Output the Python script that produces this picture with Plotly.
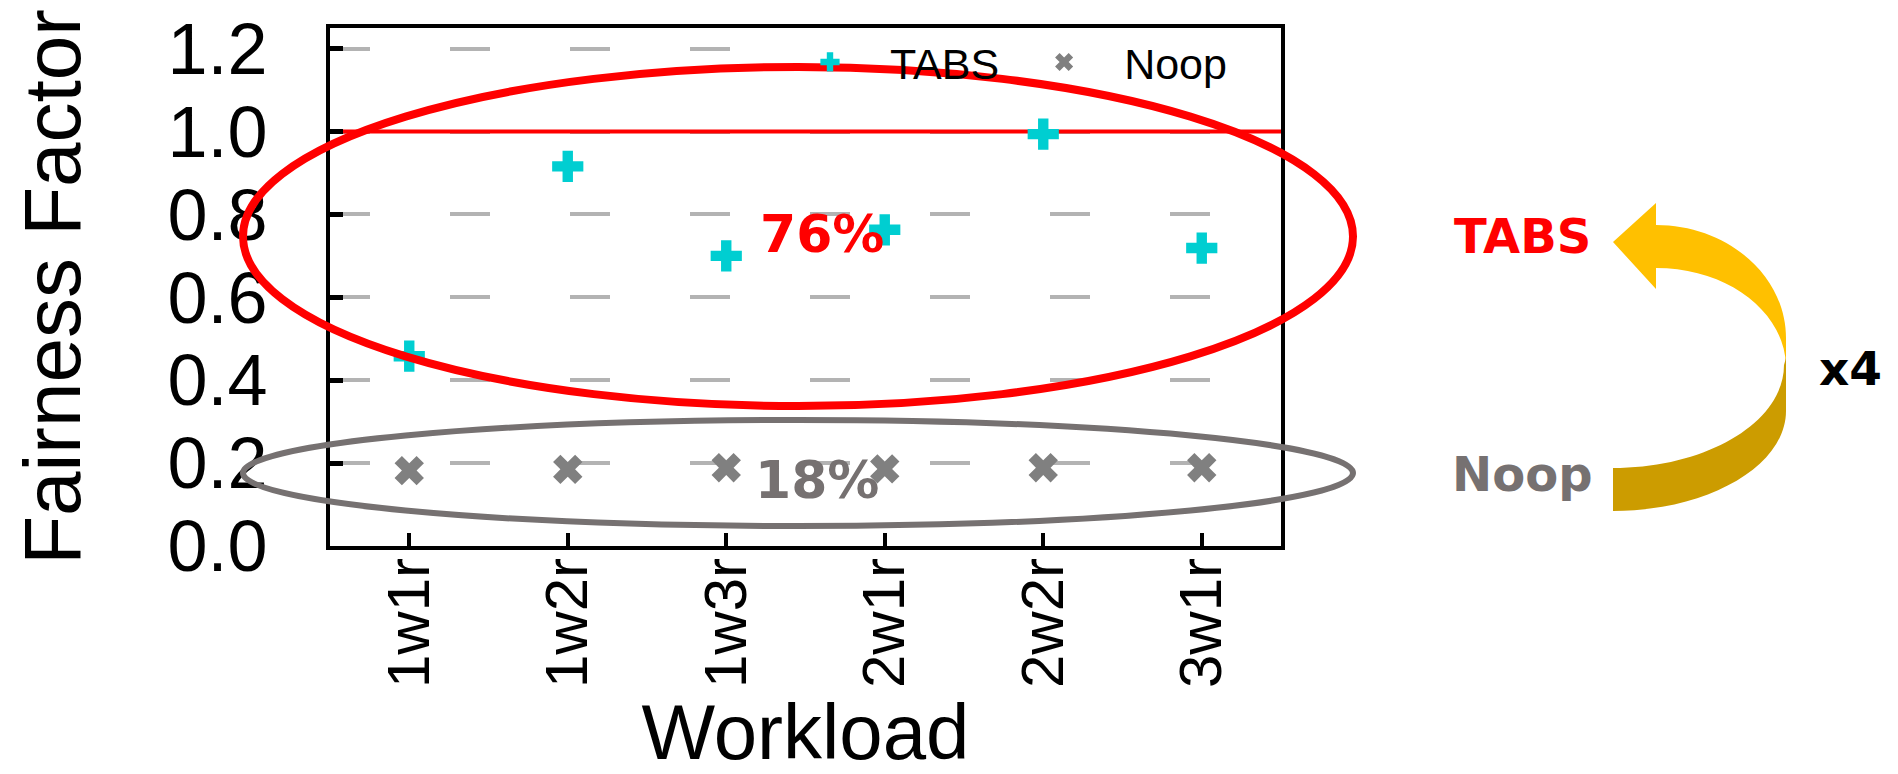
import plotly.graph_objects as go

# ---------------- data ----------------
workloads = ["1w1r", "1w2r", "1w3r", "2w1r", "2w2r", "3w1r"]
tabs = [0.458, 0.916, 0.700, 0.763, 0.994, 0.719]
noop = [0.182, 0.185, 0.189, 0.186, 0.189, 0.189]
y_tick_vals = [0.0, 0.2, 0.4, 0.6, 0.8, 1.0, 1.2]
fair_level = 1.0
tabs_pct = "76%"
noop_pct = "18%"
gain_label = "x4"

x_pos = list(range(len(workloads)))
x_span = [-0.5, len(workloads) - 0.5]

# ---------------- layout geometry (px) ----------------
W, H = 1898, 774
L, R, T, B = 322, 625, 20, 236
PW = W - L - R
PH = H - T - B


def px(x):
    return (x - L) / PW


def py(y):
    return (H - B - y) / PH


FONT = "Liberation Sans, Arial, Helvetica, sans-serif"
BOLD = "DejaVu Sans, Verdana, sans-serif"
RED = "#FF0000"
GREY = "#767171"
CYAN = "#00CED1"
XGREY = "#808080"
GOLD = "#FFC000"
DGOLD = "#CC9C00"

fig = go.Figure()
# fairness reference line (fair = 1.0)
fig.add_trace(go.Scatter(
    x=x_span, y=[fair_level, fair_level], mode="lines", showlegend=False,
    line=dict(color=RED, width=4), hoverinfo="skip",
))
fig.add_trace(go.Scatter(
    x=x_pos, y=tabs, mode="markers", name="TABS",
    marker=dict(symbol="cross", size=26, color=CYAN, line=dict(width=0)),
))
fig.add_trace(go.Scatter(
    x=x_pos, y=noop, mode="markers", name="Noop",
    marker=dict(symbol="x", size=26, color=XGREY, line=dict(width=0)),
))

shapes = []
# white patch behind legend hiding the grid dashes
shapes.append(dict(type="rect", xref="paper", yref="paper",
                   x0=px(742), x1=px(1214), y0=py(47), y1=py(33),
                   fillcolor="white", line=dict(width=0), layer="above"))
# highlight ellipses
shapes.append(dict(type="circle", xref="paper", yref="paper",
                   x0=px(235), x1=px(1345), y0=py(398), y1=py(59),
                   line=dict(color=RED, width=8), layer="above"))
shapes.append(dict(type="circle", xref="paper", yref="paper",
                   x0=px(235), x1=px(1345), y0=py(518), y1=py(412),
                   line=dict(color=GREY, width=6), layer="above"))


def P(x, y):
    return f"{px(x):.5f},{py(y):.5f}"


# curved arrow: upper (light) part with head
upper = (
    f"M{P(1605, 234)} L{P(1648, 195)} L{P(1648, 217)} "
    f"C{P(1720, 217)} {P(1778, 268)} {P(1778, 330)} "
    f"L{P(1778, 357)} "
    f"C{P(1776, 303)} {P(1719, 260)} {P(1648, 260)} "
    f"L{P(1648, 281)} Z"
)
lower = (
    f"M{P(1776, 357)} L{P(1778, 350)} L{P(1778, 403)} "
    f"C{P(1778, 458)} {P(1700, 503)} {P(1605, 503)} "
    f"L{P(1605, 460)} "
    f"C{P(1699, 460)} {P(1776, 414)} {P(1776, 357)} Z"
)
shapes.append(dict(type="path", xref="paper", yref="paper", path=upper,
                   fillcolor=GOLD, line=dict(width=0), layer="above"))
shapes.append(dict(type="path", xref="paper", yref="paper", path=lower,
                   fillcolor=DGOLD, line=dict(width=0), layer="above"))

annotations = [
    dict(x=px(814), y=py(226), text=f"<b>{tabs_pct}</b>", font=dict(family=BOLD, size=52, color=RED)),
    dict(x=px(809), y=py(472), text=f"<b>{noop_pct}</b>", font=dict(family=BOLD, size=52, color=GREY)),
    dict(x=px(1514), y=py(228), text="<b>TABS</b>", font=dict(family=BOLD, size=48, color=RED)),
    dict(x=px(1514), y=py(466), text="<b>Noop</b>", font=dict(family=BOLD, size=48, color=GREY)),
    dict(x=px(1842), y=py(360), text=f"<b>{gain_label}</b>", font=dict(family=BOLD, size=47, color="black")),
]
for a in annotations:
    a.update(xref="paper", yref="paper", showarrow=False, xanchor="center", yanchor="middle")

fig.update_layout(
    width=W, height=H,
    margin=dict(l=L, r=R, t=T, b=B, pad=0),
    paper_bgcolor="white", plot_bgcolor="white",
    font=dict(family=FONT, color="black"),
    shapes=shapes,
    annotations=annotations,
    showlegend=True,
    legend=dict(
        orientation="h", x=px(762), y=py(54), xanchor="left", yanchor="middle",
        bgcolor="rgba(0,0,0,0)", borderwidth=0,
        font=dict(family=FONT, size=43, color="black"),
        itemwidth=110, itemsizing="trace",
    ),
)

fig.update_xaxes(
    tickvals=x_pos, ticktext=workloads,
    range=x_span,
    showgrid=False, zeroline=False,
    showline=True, linewidth=4, linecolor="black", mirror=True,
    ticks="inside", ticklen=13, tickwidth=4, tickcolor="black",
    tickangle=-90, tickfont=dict(family=FONT, size=60, color="black"),
    ticklabelstandoff=-16,
    title=dict(text="Workload", font=dict(family=FONT, size=78, color="black"), standoff=12),
    automargin=False,
)
fig.update_yaxes(
    range=[0, 1.25], tickvals=y_tick_vals, tickformat=".1f",
    showgrid=True, gridcolor="#B3B3B3", gridwidth=4, griddash="40px,80px",
    zeroline=False,
    showline=True, linewidth=4, linecolor="black", mirror=True,
    ticks="inside", ticklen=13, tickwidth=5, tickcolor="black",
    tickfont=dict(family=FONT, size=72, color="black"),
    ticklabelstandoff=44, ticklabeloverflow="allow",
    title=dict(text="Fairness Factor", font=dict(family=FONT, size=80, color="black"), standoff=70),
    automargin=False,
)

fig.write_html("out.html")
